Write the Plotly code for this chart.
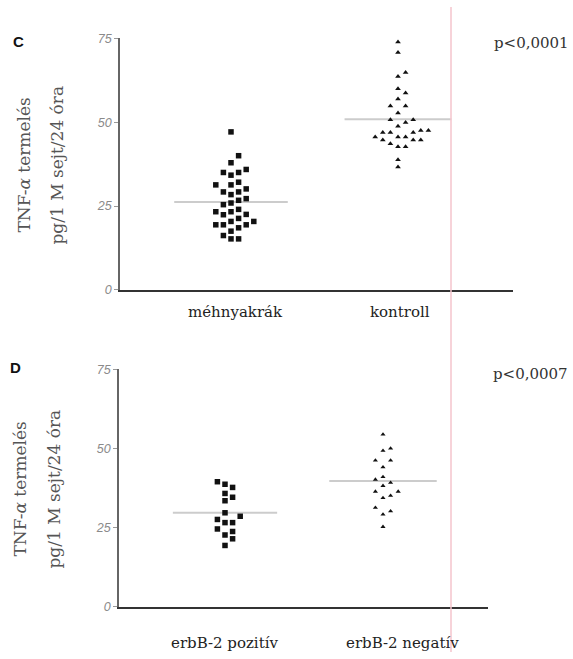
import plotly.graph_objects as go

# ---------------- data ----------------
cats_c = ["méhnyakrák", "kontroll"]
mehnyakrak = [47.1, 40.0, 37.9, 35.9, 35.0, 35.0, 34.2, 32.1, 31.3, 31.3, 30.1,
              29.2, 29.2, 28.4, 27.2, 26.7, 25.9, 25.4, 24.0, 23.3, 23.3, 22.5,
              22.4, 21.3, 20.4, 20.4, 19.4, 19.4, 19.4, 18.5, 17.5, 16.2, 15.2, 15.2]
kontroll = [73.9, 70.8, 64.8, 63.6, 60.0, 58.7, 56.9, 54.8, 54.8, 52.7, 50.7,
            50.7, 49.9, 48.8, 47.5, 47.5, 46.9, 46.9, 46.9, 45.6, 45.6, 45.6,
            44.7, 44.7, 44.7, 43.6, 42.7, 42.7, 38.8, 36.6]
mean_c = [26.2, 50.9]

cats_d = ["erbB-2 pozitív", "erbB-2 negatív"]
pozitiv = [39.5, 38.7, 37.7, 35.8, 34.6, 33.5, 29.7, 28.6, 27.6, 26.6, 26.6,
           24.6, 23.8, 22.7, 21.5, 19.4]
negativ = [54.4, 50.0, 49.3, 46.2, 46.2, 44.1, 41.0, 40.2, 39.2, 38.2, 36.4,
           36.4, 35.1, 34.4, 31.3, 30.2, 29.2, 25.3]
mean_d = [29.7, 39.7]

yticks = [0, 25, 50, 75]
panel_letters = ["C", "D"]
pvals = ["p<0,0001", "p<0,0007"]
ytitle = ["TNF-<i>α</i> termelés", "pg/1 M sejt/24 óra"]

# ---------------- geometry (pixels) ----------------
W, H = 573, 659
panels = [
    dict(x0=120, x1=513, y0=32, y1=289, c=(231, 398), hw=(0.34, 0.32),
         lab=(235, 400), laby=312, letter=(18, 35), p=(531, 37),
         tt=(24, 57), tty=162),
    dict(x0=119, x1=488, y0=370, y1=613, c=(225, 383), hw=(0.33, 0.34),
         lab=(224, 403), laby=650, letter=(15, 368), p=(530, 375),
         tt=(20, 54), tty=493),
]
for p in panels:
    ppu = p["c"][1] - p["c"][0]
    p["ppu"] = ppu
    p["xr"] = [1 - (p["c"][0] - p["x0"]) / ppu, 2 + (p["x1"] - p["c"][1]) / ppu]
    p["ypu"] = (p["y1"] - p["y0"]) / 75.0


def swarm(values, ppu, ypu, step_px=7.6, min_d=7.0):
    """simple beeswarm: returns x offsets (data units)"""
    order = sorted(range(len(values)), key=lambda i: values[i])
    placed = []
    offs = [0.0] * len(values)
    cands = [0]
    for j in range(1, 10):
        cands += [j, -j]
    for i in order:
        yv = values[i] * ypu
        for c in cands:
            xp = c * step_px
            ok = all(((xp - px) ** 2 + (yv - py) ** 2) ** 0.5 >= min_d for px, py in placed)
            if ok:
                placed.append((xp, yv))
                offs[i] = xp / ppu
                break
    return offs


fig = go.Figure()
series = [(mehnyakrak, kontroll, mean_c, "square", "triangle-up", 5.5, 5),
          (pozitiv, negativ, mean_d, "square", "triangle-up", 5.5, 4.5)]

for k, (p, (a, b, means, s1, s2, z1, z2)) in enumerate(zip(panels, series)):
    xa = "x" if k == 0 else "x2"
    ya = "y" if k == 0 else "y2"
    for i, m in enumerate(means):
        pos = i + 1
        fig.add_trace(go.Scatter(x=[pos - p["hw"][i], pos + p["hw"][i]], y=[m, m],
                                 mode="lines", line=dict(color="#cccccc", width=2),
                                 xaxis=xa, yaxis=ya, showlegend=False, hoverinfo="skip"))
    for i, (vals, sym, size) in enumerate([(a, s1, z1), (b, s2, z2)]):
        pos = i + 1
        offs = swarm(vals, p["ppu"], p["ypu"], step_px=7.6, min_d=7.2)
        fig.add_trace(go.Scatter(x=[pos + o for o in offs], y=vals, mode="markers",
                                 marker=dict(symbol=sym, size=size, color="#111111",
                                             line=dict(width=0)),
                                 cliponaxis=False, xaxis=xa, yaxis=ya, showlegend=False))

ax_common = dict(showgrid=False, zeroline=False)
for k, p in enumerate(panels):
    xd = [p["x0"] / W, p["x1"] / W]
    yd = [1 - p["y1"] / H, 1 - p["y0"] / H]
    xname = "xaxis" if k == 0 else "xaxis2"
    yname = "yaxis" if k == 0 else "yaxis2"
    fig.update_layout(**{
        xname: dict(domain=xd, range=p["xr"], showticklabels=False, ticks="",
                    showline=True, linecolor="#333333", linewidth=2,
                    anchor="y" if k == 0 else "y2", **ax_common),
        yname: dict(domain=yd, range=[0, 75], tickvals=yticks,
                    ticks="outside", ticklen=4, tickcolor="#999999", tickwidth=1,
                    tickfont=dict(family="Liberation Sans", size=12.5, color="#8a8a8a",
                                  style="italic"),
                    showline=True, linecolor="#666666", linewidth=1.5,
                    anchor="x" if k == 0 else "x2", **ax_common),
    })

annotations = []
cats = [cats_c, cats_d]
for k, p in enumerate(panels):
    for i, t in enumerate(cats[k]):
        annotations.append(dict(text=t, x=p["lab"][i] / W, y=1 - p["laby"] / H,
                                xref="paper", yref="paper", showarrow=False,
                                xanchor="center", yanchor="middle",
                                font=dict(family="DejaVu Serif", size=15, color="#222222")))
    annotations.append(dict(text=f"<b>{panel_letters[k]}</b>", x=p["letter"][0] / W,
                            y=1 - p["letter"][1] / H, xref="paper", yref="paper",
                            showarrow=False, xanchor="center", yanchor="middle",
                            font=dict(family="Liberation Sans", size=15, color="#111111")))
    annotations.append(dict(text=pvals[k], x=p["p"][0] / W, y=1 - p["p"][1] / H,
                            xref="paper", yref="paper", showarrow=False,
                            xanchor="center", yanchor="middle",
                            font=dict(family="DejaVu Serif", size=15, color="#333333")))
    for j, t in enumerate(ytitle):
        annotations.append(dict(text=t, x=p["tt"][j] / W, y=1 - p["tty"] / H,
                                xref="paper", yref="paper", showarrow=False,
                                textangle=-90, xanchor="center", yanchor="middle",
                                font=dict(family="DejaVu Serif", size=17, color="#555555")))

fig.update_layout(
    width=W, height=H, margin=dict(l=0, r=0, t=0, b=0),
    paper_bgcolor="white", plot_bgcolor="white",
    annotations=annotations,
    shapes=[dict(type="line", xref="paper", yref="paper", x0=451 / W, x1=451 / W,
                 y0=0, y1=1, line=dict(color="#f4c4cd", width=1.5))],
)

fig.write_html("out.html", config={"displayModeBar": False},
               post_script="document.body.style.margin='0';"
                           "document.body.style.overflow='hidden';")
